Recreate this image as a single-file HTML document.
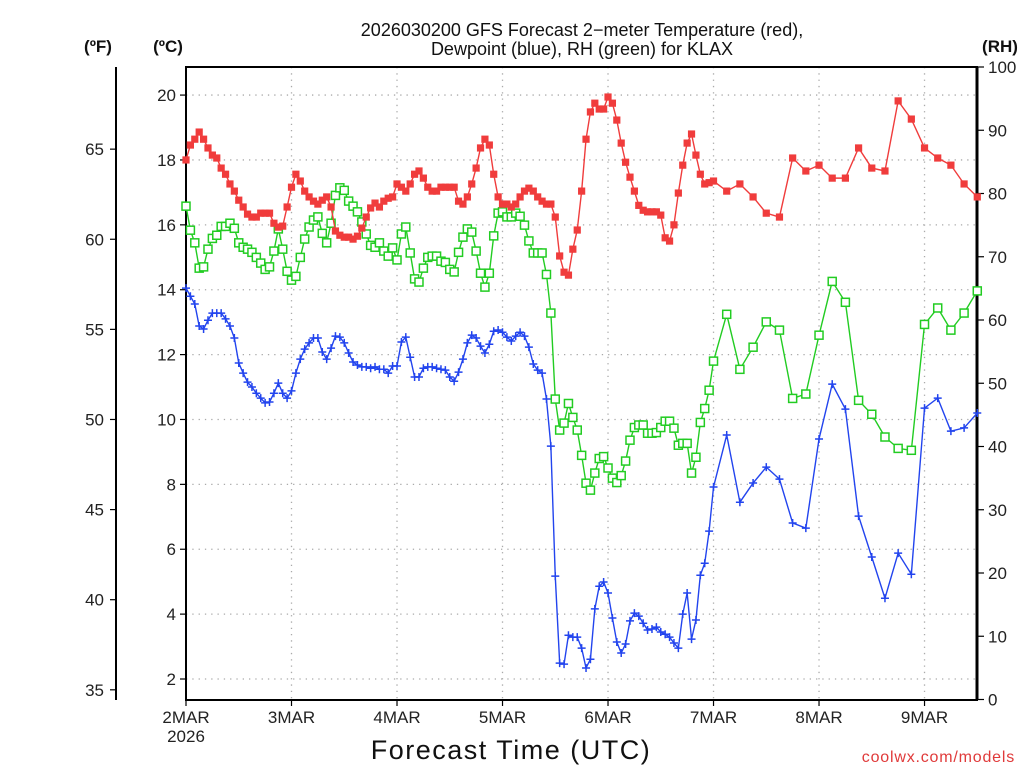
<!DOCTYPE html>
<html><head><meta charset="utf-8">
<style>
html,body{margin:0;padding:0;background:#fff;}
svg{display:block;font-family:"Liberation Sans",sans-serif;}
</style></head>
<body>
<svg id="chart" width="1024" height="768" viewBox="0 0 1024 768" xmlns="http://www.w3.org/2000/svg">
<rect width="1024" height="768" fill="#fff"/>
<text x="582" y="36" font-size="18" text-anchor="middle" fill="#111">2026030200 GFS Forecast 2−meter Temperature (red),</text>
<text x="582" y="55" font-size="18" text-anchor="middle" fill="#111">Dewpoint (blue), RH (green) for KLAX</text>
<text x="98" y="52" font-size="17" font-weight="bold" text-anchor="middle" fill="#111">(ºF)</text>
<text x="168" y="52" font-size="17" font-weight="bold" text-anchor="middle" fill="#111">(ºC)</text>
<text x="1000" y="52" font-size="17" font-weight="bold" text-anchor="middle" fill="#111">(RH)</text>
<text x="511" y="759" font-size="27" letter-spacing="1.5" text-anchor="middle" fill="#111">Forecast Time (UTC)</text>
<text x="1015" y="762" font-size="16" letter-spacing="0.8" text-anchor="end" fill="#e03a3a">coolwx.com/models</text>
<g id="grid"></g><g id="axes"></g><g id="series"></g>
</svg>
<script>
const dayLabels = ["2MAR","3MAR","4MAR","5MAR","6MAR","7MAR","8MAR","9MAR"];
const cTicks = [2,4,6,8,10,12,14,16,18,20];
const fTicks = [35,40,45,50,55,60,65];
const rhTicks = [0,10,20,30,40,50,60,70,80,90,100];
const tempHourly = [18.0,18.46,18.64,18.86,18.64,18.37,18.15,18.06,17.75,17.56,
17.26,17.04,16.76,16.55,16.33,16.24,16.24,16.36,16.36,16.36,
16.05,15.93,15.96,16.55,17.16,17.56,17.35,17.04,16.86,16.73,
16.64,16.76,16.86,16.55,15.81,15.68,15.62,15.62,15.56,15.65,
15.9,16.24,16.52,16.67,16.55,16.73,16.82,16.86,17.26,17.16,
17.04,17.26,17.56,17.66,17.44,17.16,17.04,17.04,17.16,17.16,
17.16,17.16,16.73,16.64,16.86,17.26,17.75,18.37,18.64,18.46,
17.56,16.86,16.64,16.64,16.55,16.64,16.86,17.04,17.13,17.04,
16.86,16.73,16.64,16.64,16.24,15.04,14.54,14.45,15.25,15.84,
17.04,18.64,19.48,19.75,19.57,19.57,19.94,19.75,19.23,18.52,
17.93,17.47,17.04,16.6,16.45,16.4,16.4,16.4,16.3,15.6,
15.5,16.0,16.98,17.84,18.52,18.8,18.15,17.56,17.26,17.3];
const temp3h = [17.35,17.04,17.26,16.86,16.36,16.24,18.06,17.66,17.84,17.44,17.44,18.37,17.75,17.66,19.82,19.26,18.37,18.06,17.84,17.26,16.86];
const rhHourly = [78.0,74.2,72.2,68.2,68.4,71.2,72.9,73.4,74.8,74.8,
75.3,74.5,72.2,71.5,71.2,70.7,69.9,69.0,68.0,68.4,
70.9,74.4,71.2,67.7,66.3,66.9,69.9,72.8,74.7,75.8,
76.3,73.7,72.2,75.3,79.7,80.9,80.5,78.8,78.0,77.1,
75.5,73.6,71.8,71.5,72.2,70.9,70.1,71.4,69.5,73.6,
74.7,70.6,66.5,66.0,68.2,69.9,70.1,70.1,69.3,69.1,
68.0,67.6,70.7,73.1,74.4,73.9,70.9,67.4,65.2,67.4,
73.3,76.9,77.1,76.3,76.3,76.9,76.4,75.0,72.5,70.6,
70.6,70.6,67.2,61.1,47.5,42.6,43.7,46.8,44.6,42.6,
38.6,34.2,33.1,35.8,38.1,38.4,36.6,35.0,34.3,35.4,
37.7,41.0,43.0,43.4,43.4,42.1,42.1,42.2,43.0,44.0,
44.0,42.9,40.2,40.5,40.5,35.8,38.3,43.8,46.0,48.9];
const rh3h = [53.5,60.9,52.2,55.7,59.7,58.4,47.6,48.3,57.6,66.1,62.8,47.3,45.1,41.5,39.7,39.4,59.3,61.9,58.4,61.1,64.6];
const dewHourly = [14.05,13.80,13.56,12.88,12.79,13.06,13.28,13.28,13.28,13.10,
12.88,12.51,11.74,11.43,11.15,11.00,10.81,10.66,10.51,10.54,
10.81,11.12,10.81,10.66,10.88,11.43,11.86,12.17,12.36,12.51,
12.51,12.08,11.86,12.20,12.57,12.54,12.36,12.05,11.77,11.68,
11.62,11.62,11.58,11.62,11.55,11.55,11.43,11.65,11.65,12.39,
12.54,11.92,11.31,11.31,11.58,11.62,11.62,11.58,11.55,11.52,
11.31,11.18,11.46,11.86,12.36,12.60,12.51,12.26,12.05,12.32,
12.72,12.76,12.69,12.54,12.42,12.57,12.69,12.57,12.23,11.71,
11.52,11.43,10.63,9.18,5.17,2.49,2.46,3.35,3.29,3.29,
2.95,2.34,2.61,4.16,4.86,4.99,4.65,3.88,3.14,2.8,
3.08,3.79,4.03,3.94,3.72,3.51,3.54,3.6,3.45,3.38,
3.29,3.11,2.95,4.0,4.65,3.23,3.82,5.2,5.57,6.56];
const dew3h = [7.92,9.52,7.45,8.04,8.53,8.16,6.81,6.65,9.4,11.09,10.32,7.02,5.76,4.49,5.88,5.23,10.35,10.66,9.64,9.74,10.2];

const NS="http://www.w3.org/2000/svg";
const X0=186,X1=977,Y0=67,Y1=700,PXH=4.396;
const xS=h=>X0+h*PXH;
const yC=c=>679-(c-2)*32.44;
const yF=f=>yC((f-32)/1.8);
const yR=r=>699.5-r*6.325;
function mk(tag,attrs,parent){const e=document.createElementNS(NS,tag);for(const k in attrs)e.setAttribute(k,attrs[k]);parent.appendChild(e);return e;}
const grid=document.getElementById('grid'),axes=document.getElementById('axes'),ser=document.getElementById('series');

cTicks.forEach(c=>{
  const l=mk('line',{x1:X0,x2:X1,y1:yC(c),y2:yC(c),stroke:'#aaa','stroke-width':1.3,'stroke-dasharray':'1.3,5'},grid);
  
  
});
dayLabels.forEach((d,i)=>{
  if(i===0)return;
  const x=xS(i*24);
  const l=mk('line',{x1:x,x2:x,y1:Y0,y2:Y1,stroke:'#aaa','stroke-width':1.3,'stroke-dasharray':'1.3,5'},grid);
  
  
});
const fr=mk('rect',{x:X0,y:Y0,width:X1-X0,height:Y1-Y0,fill:'none',stroke:'#000','stroke-width':2},axes);


const ra=mk('line',{x1:X1,x2:X1,y1:Y0,y2:Y1,stroke:'#000','stroke-width':3},axes);


const fa=mk('line',{x1:116,x2:116,y1:Y0,y2:Y1,stroke:'#000','stroke-width':2},axes);


cTicks.forEach(c=>{
  mk('line',{x1:X0-6,x2:X0,y1:yC(c),y2:yC(c),stroke:'#000','stroke-width':1.2},axes);
  const t=mk('text',{x:X0-10,y:yC(c)+6,'font-size':17,'text-anchor':'end',fill:'#222'},axes);
  t.textContent=c;
  
  
});
fTicks.forEach(f=>{
  mk('line',{x1:110,x2:116,y1:yF(f),y2:yF(f),stroke:'#000','stroke-width':1.2},axes);
  const t=mk('text',{x:104,y:yF(f)+6,'font-size':17,'text-anchor':'end',fill:'#222'},axes);
  t.textContent=f;
  
  
});
rhTicks.forEach(r=>{
  mk('line',{x1:X1,x2:X1+7,y1:yR(r),y2:yR(r),stroke:'#000','stroke-width':1.2},axes);
  const t=mk('text',{x:X1+11,y:yR(r)+6,'font-size':17,fill:'#222'},axes);
  t.textContent=r;
  
  
});
dayLabels.forEach((d,i)=>{
  const x=xS(i*24);
  mk('line',{x1:x,x2:x,y1:Y1,y2:Y1+6,stroke:'#000','stroke-width':1.2},axes);
  const t=mk('text',{x:x,y:723,'font-size':17,'text-anchor':'middle',fill:'#222'},axes);
  t.textContent=d;
  
  
});
const yr=mk('text',{x:xS(0),y:742,'font-size':17,'text-anchor':'middle',fill:'#222'},axes);
yr.textContent='2026';



function pts(hourly,three,yf){
  const p=[];
  hourly.forEach((v,i)=>p.push([xS(i),yf(v)]));
  three.forEach((v,i)=>p.push([xS(120+i*3),yf(v)]));
  return p;
}
function drawSeries(p,name,color,marker){
  const g=mk('g',{},ser);
  
  
  mk('polyline',{points:p.map(a=>a.join(',')).join(' '),fill:'none',stroke:color,'stroke-width':1.4},g);
  p.forEach(([x,y])=>{
    let m;
    if(marker==='fill'){m=mk('rect',{x:x-3.6,y:y-3.6,width:7.2,height:7.2,fill:color},g);}
    else if(marker==='open'){m=mk('rect',{x:x-4,y:y-4,width:8,height:8,fill:'#fff',stroke:color,'stroke-width':1.5},g);}
    else{m=mk('path',{d:`M${x-4},${y}H${x+4}M${x},${y-4}V${y+4}`,stroke:color,'stroke-width':1.5},g);}
    
    
  });
}
drawSeries(pts(rhHourly,rh3h,yR),'rh-series','#22cc22','open');
drawSeries(pts(dewHourly,dew3h,yC),'dewpoint-series','#2244ee','plus');
drawSeries(pts(tempHourly,temp3h,yC),'temperature-series','#f03c3c','fill');
</script>
</body></html>
